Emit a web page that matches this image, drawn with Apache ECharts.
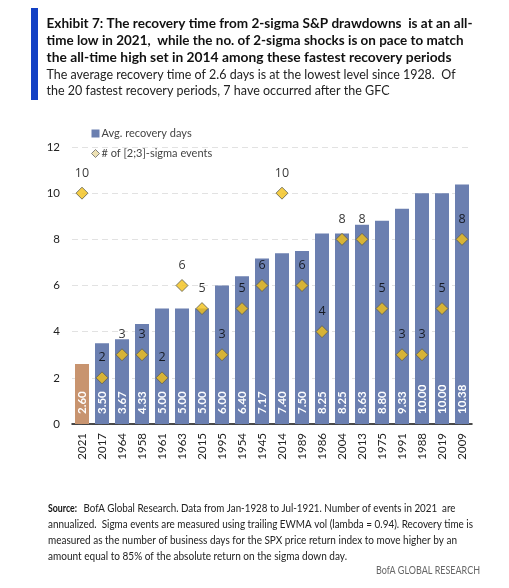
<!DOCTYPE html>
<html>
<head>
<meta charset="utf-8">
<script src="https://cdn.jsdelivr.net/npm/echarts@6/dist/echarts.min.js"></script>
<style>
html,body{margin:0;padding:0;background:#fff;}
#c{width:509px;height:588px;}
</style>
</head>
<body>
<div id="c"></div>
<script>
var categories = ['2021','2017','1964','1958','1961','1963','2015','1995','1954','1945','2014','1989','1986','2004','2013','1975','1991','1988','2019','2009'];
var recoveryDays = [2.60,3.50,3.67,4.33,5.00,5.00,5.00,6.00,6.40,7.17,7.40,7.50,8.25,8.25,8.63,8.80,9.33,10.00,10.00,10.38];
var sigmaEvents = [10,2,3,3,2,6,5,3,5,6,10,6,4,8,8,5,3,3,5,8];
var yTicks = [0,2,4,6,8,10,12];
var titleLines = [
  'Exhibit 7: The recovery time from 2-sigma S&P drawdowns  is at an all-',
  'time low in 2021,  while the no. of 2-sigma shocks is on pace to match',
  'the all-time high set in 2014 among these fastest recovery periods'
];
var subtitleLines = [
  'The average recovery time of 2.6 days is at the lowest level since 1928.  Of',
  'the 20 fastest recovery periods, 7 have occurred after the GFC'
];
var sourceLabel = 'Source:';
var footLines = [
  'BofA Global Research. Data from Jan-1928 to Jul-1921. Number of events in 2021  are',
  'annualized.  Sigma events are measured using trailing EWMA vol (lambda = 0.94). Recovery time is',
  'measured as the number of business days for the SPX price return index to move higher by an',
  'amount equal to 85% of the absolute return on the sigma down day.'
];
var brand = 'BofA GLOBAL RESEARCH';

var FONT = 'Lato, "Open Sans", sans-serif';
var cv = document.createElement('canvas').getContext('2d');
function measure(text, font){ cv.font = font; return cv.measureText(text).width; }
function fitText(text, x, y, font, targetW, fill, align){
  var w = measure(text, font);
  var s = targetW / w;
  return {type:'text', x:x, y:y, scaleX:s, style:{text:text, font:font, fill:fill, textVerticalAlign:'middle', textAlign:align||'left'}};
}

var chart = echarts.init(document.getElementById('c'));

var graphics = [
  {type:'rect', shape:{x:31, y:8, width:7, height:92}, style:{fill:'#1240c4'}}
];
var tFont = 'bold 14px ' + FONT;
var sFont = '14px ' + FONT;
var fFont = '11px ' + FONT;
var fbFont = 'bold 11px ' + FONT;
var tY = [23, 40, 57.5], tW = [426, 417, 405];
titleLines.forEach(function(t,i){ graphics.push(fitText(t, 46.5, tY[i], tFont, tW[i], '#111')); });
var sY = [74.5, 90], sW = [409, 343];
subtitleLines.forEach(function(t,i){ graphics.push(fitText(t, 46.5, sY[i], sFont, sW[i], '#222')); });
var fY = [508.5, 524.5, 540.5, 556], fX = [83.5, 48, 48, 48], fW = [372, 425, 409, 299];
graphics.push(fitText(sourceLabel, 48, fY[0], fbFont, 29, '#111'));
footLines.forEach(function(t,i){ graphics.push(fitText(t, fX[i], fY[i], fFont, fW[i], '#222')); });
graphics.push(fitText(brand, 480, 570, '11.5px ' + FONT, 104, '#666', 'right'));

var barData = recoveryDays.map(function(v,i){
  return i===0 ? {value:v, itemStyle:{color:'#c8946f'}} : v;
});

chart.setOption({
  animation:false,
  textStyle:{fontFamily:FONT},
  graphic:graphics,
  legend:{
    orient:'vertical', left:86, top:123, itemGap:9, itemWidth:8, itemHeight:8,
    textStyle:{fontSize:11, color:'#444', fontFamily:FONT, padding:[0,0,0,-3]},
    data:[
      {name:'Avg. recovery days', icon:'rect'},
      {name:'# of [2;3]-sigma events', icon:'diamond', itemStyle:{color:'#e8d9a0', borderColor:'#666', borderWidth:1}}
    ]
  },
  grid:{left:72, right:37, top:147, bottom:164},
  xAxis:{
    type:'category', data:categories,
    axisLine:{lineStyle:{color:'#111', width:1.5}},
    axisTick:{show:false},
    axisLabel:{rotate:90, color:'#222', fontSize:11.5, margin:9, interval:0, fontFamily:FONT}
  },
  yAxis:{
    type:'value', min:0, max:12, interval:2,
    axisLine:{show:false}, axisTick:{show:false},
    axisLabel:{color:'#222', fontSize:11.5, margin:12, fontFamily:FONT,
      formatter:function(v){return yTicks.indexOf(v)>=0 ? String(v) : '';}},
    splitLine:{lineStyle:{color:'#e2e2e2', type:[6,4], width:1}}
  },
  series:[
    {
      name:'Avg. recovery days', type:'bar', data:barData, barCategoryGap:'30%',
      itemStyle:{color:'#6b7fb0'},
      label:{show:true, position:'insideBottom', rotate:90, align:'left', verticalAlign:'middle',
        distance:10, color:'#fff', fontWeight:'bold', fontSize:11.5, fontFamily:FONT,
        formatter:function(p){return p.value.toFixed(2);}}
    },
    {
      name:'# of [2;3]-sigma events', type:'scatter', data:sigmaEvents, symbol:'diamond', symbolSize:12,
      itemStyle:{color:'#f3c118', borderColor:'#5e5e50', borderWidth:1},
      label:{show:true, position:'top', distance:7, color:'#000', fontSize:12.5, fontWeight:500, fontFamily:'"Open Sans", Lato, sans-serif'},
      z:5
    }
  ]
});
</script>
</body>
</html>
